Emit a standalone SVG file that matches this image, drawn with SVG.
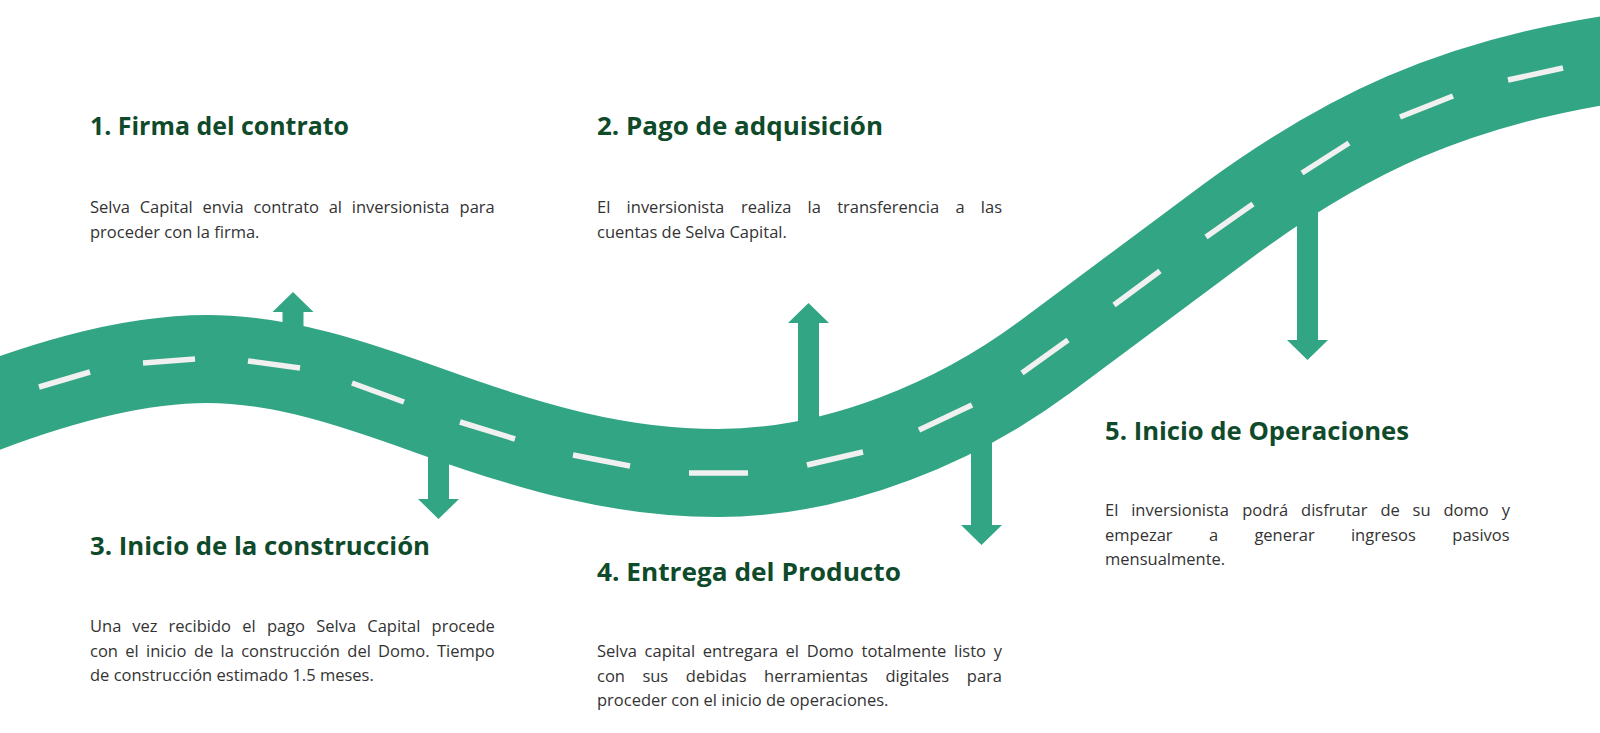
<svg xmlns="http://www.w3.org/2000/svg" width="1600" height="733" viewBox="0 0 1600 733">
<style>
.road{fill:none;stroke:#32a584;stroke-width:88}
.dash{stroke:#f0f0f0;stroke-width:5.5;stroke-linecap:butt}
.arrow{fill:#32a584}
.h{font-family:"Open Sans","Liberation Sans",sans-serif;font-weight:700;font-size:25px;fill:#0f4a2a}
.b{font-family:"Open Sans","Liberation Sans",sans-serif;font-size:16.5px;fill:#333333}
</style>
<rect width="1600" height="733" fill="#ffffff"/>
<g id="road">
<path class="road" d="M-40,418 C30,390 122,359 207,359 C282,359 355,384 430,411 C530,447 618,473 718,473 C840,473 960,420 1045,357 C1105,312.5 1169,264.5 1229,220 C1339,139.5 1450,80 1640,55"/>
</g>
<g id="connectors">
<polygon class="arrow" points="293,292 313.5,312 303.5,312 303.5,345 282.5,345 282.5,312 272.5,312"/>
<polygon class="arrow" points="808.5,303 829,323 819,323 819,440 798,440 798,323 788,323"/>
<polygon class="arrow" points="438.5,519 418,499 428,499 428,430 449,430 449,499 459,499"/>
<polygon class="arrow" points="981.5,545 961,525 971,525 971,420 992,420 992,525 1002,525"/>
<polygon class="arrow" points="1307.5,360 1287,340 1297,340 1297,200 1318,200 1318,340 1328,340"/>
</g>
<g id="lane-markings">
<line class="dash" x1="39" y1="387" x2="90" y2="372"/>
<line class="dash" x1="143" y1="363" x2="195" y2="359"/>
<line class="dash" x1="248" y1="361" x2="300" y2="368"/>
<line class="dash" x1="352" y1="383" x2="404" y2="402"/>
<line class="dash" x1="460" y1="422" x2="515" y2="439"/>
<line class="dash" x1="573" y1="455" x2="630" y2="466"/>
<line class="dash" x1="689" y1="473" x2="748" y2="473"/>
<line class="dash" x1="807" y1="465" x2="863" y2="452"/>
<line class="dash" x1="919" y1="430" x2="972" y2="405"/>
<line class="dash" x1="1022" y1="373" x2="1068" y2="340"/>
<line class="dash" x1="1114" y1="305" x2="1160" y2="271"/>
<line class="dash" x1="1206" y1="237" x2="1253" y2="204"/>
<line class="dash" x1="1302" y1="173" x2="1349" y2="143"/>
<line class="dash" x1="1400" y1="117" x2="1453" y2="96"/>
<line class="dash" x1="1508" y1="80" x2="1563" y2="68"/>
</g>
<g id="step1">
<text class="h" x="90" y="135" textLength="259" lengthAdjust="spacingAndGlyphs">1. Firma del contrato</text>
<text class="b" y="213"><tspan x="90">Selva</tspan><tspan x="139.7">Capital</tspan><tspan x="202.6">envia</tspan><tspan x="253.4">contrato</tspan><tspan x="328.7">al</tspan><tspan x="351.8">inversionista</tspan><tspan x="459.6">para</tspan></text>
<text class="b" x="90" y="237.5">proceder con la firma.</text>
</g>
<g id="step2">
<text class="h" x="597" y="135" textLength="286" lengthAdjust="spacingAndGlyphs">2. Pago de adquisición</text>
<text class="b" y="213"><tspan x="597">El</tspan><tspan x="626.6">inversionista</tspan><tspan x="740.9">realiza</tspan><tspan x="807.6">la</tspan><tspan x="837.2">transferencia</tspan><tspan x="955.5">a</tspan><tspan x="980.8">las</tspan></text>
<text class="b" x="597" y="237.5">cuentas de Selva Capital.</text>
</g>
<g id="step3">
<text class="h" x="90" y="555" textLength="340" lengthAdjust="spacingAndGlyphs">3. Inicio de la construcción</text>
<text class="b" y="632"><tspan x="90">Una</tspan><tspan x="132.3">vez</tspan><tspan x="168.6">recibido</tspan><tspan x="242.3">el</tspan><tspan x="266.9">pago</tspan><tspan x="316.2">Selva</tspan><tspan x="367.3">Capital</tspan><tspan x="431.6">procede</tspan></text>
<text class="b" y="656.5"><tspan x="90">con</tspan><tspan x="125.3">el</tspan><tspan x="146">inicio</tspan><tspan x="194">de</tspan><tspan x="220.6">la</tspan><tspan x="241.2">construcción</tspan><tspan x="347.3">del</tspan><tspan x="378.1">Domo.</tspan><tspan x="436.9">Tiempo</tspan></text>
<text class="b" x="90" y="681">de construcción estimado 1.5 meses.</text>
</g>
<g id="step4">
<text class="h" x="597" y="581" textLength="304" lengthAdjust="spacingAndGlyphs">4. Entrega del Producto</text>
<text class="b" y="657"><tspan x="597">Selva</tspan><tspan x="644.6">capital</tspan><tspan x="702.8">entregara</tspan><tspan x="785.6">el</tspan><tspan x="806.7">Domo</tspan><tspan x="861.5">totalmente</tspan><tspan x="954">listo</tspan><tspan x="993.8">y</tspan></text>
<text class="b" y="681.5"><tspan x="597">con</tspan><tspan x="642.4">sus</tspan><tspan x="685.8">debidas</tspan><tspan x="764.1">herramientas</tspan><tspan x="885.5">digitales</tspan><tspan x="966.8">para</tspan></text>
<text class="b" x="597" y="706">proceder con el inicio de operaciones.</text>
</g>
<g id="step5">
<text class="h" x="1105" y="440" textLength="304" lengthAdjust="spacingAndGlyphs">5. Inicio de Operaciones</text>
<text class="b" y="516"><tspan x="1105">El</tspan><tspan x="1131.2">inversionista</tspan><tspan x="1242.2">podrá</tspan><tspan x="1301.1">disfrutar</tspan><tspan x="1380.4">de</tspan><tspan x="1412.6">su</tspan><tspan x="1443.5">domo</tspan><tspan x="1501.8">y</tspan></text>
<text class="b" y="540.5"><tspan x="1105">empezar</tspan><tspan x="1208.9">a</tspan><tspan x="1254.4">generar</tspan><tspan x="1350.9">ingresos</tspan><tspan x="1452.3">pasivos</tspan></text>
<text class="b" x="1105" y="565">mensualmente.</text>
</g>
</svg>
